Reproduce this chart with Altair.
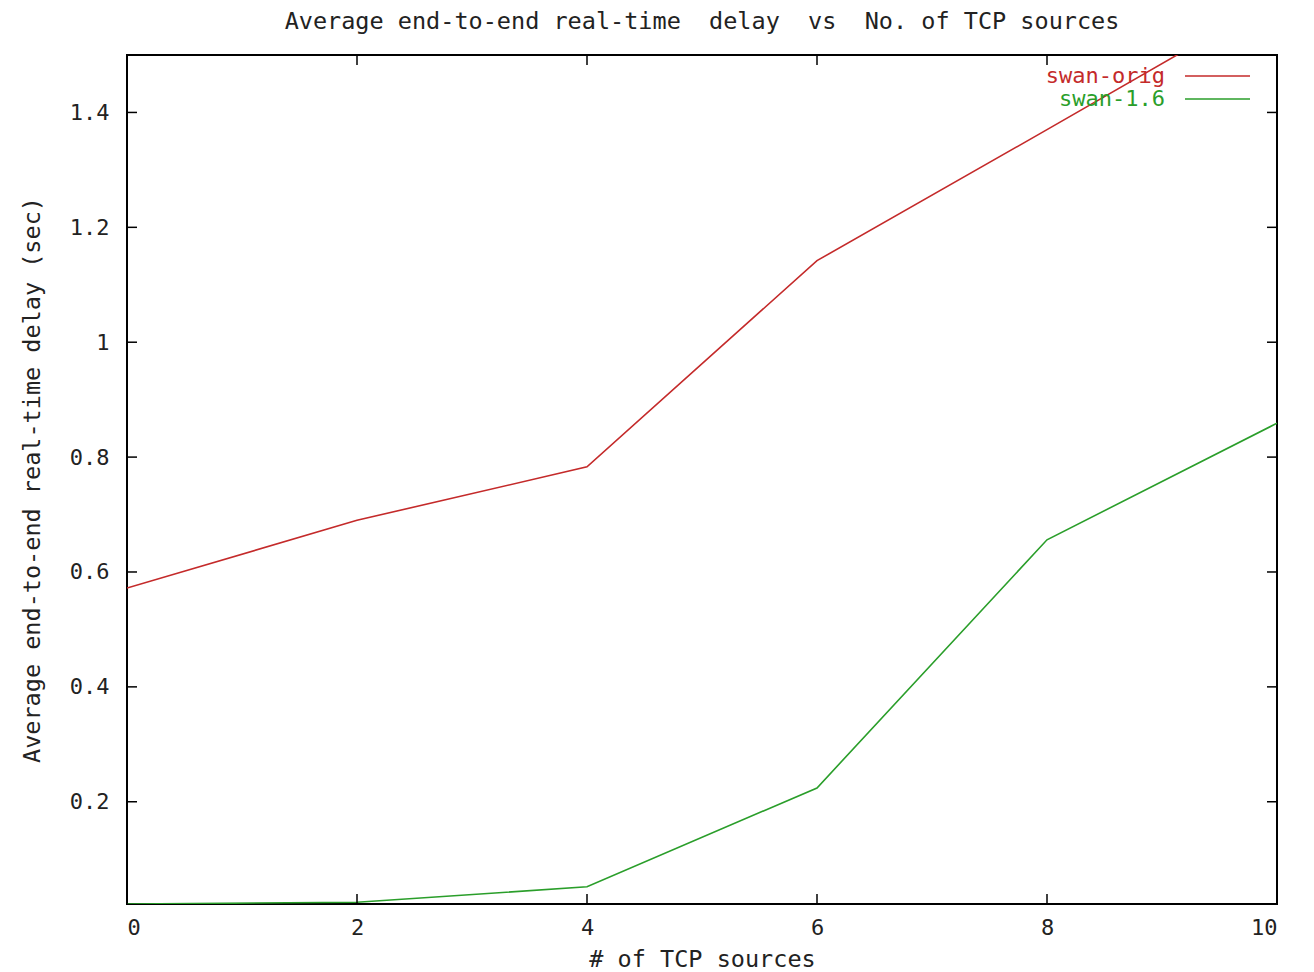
import altair as alt
import pandas as pd

# ---- data ----
x_vals = [0, 2, 4, 6, 8, 10]
swan_orig = [0.572, 0.690, 0.783, 1.142, 1.370, 1.600]
swan_16 = [0.022, 0.025, 0.052, 0.224, 0.656, 0.859]
series_names = ["swan-orig", "swan-1.6"]
series_colors = ["#c42a2a", "#2a9e2a"]
x_ticks = [0, 2, 4, 6, 8, 10]
y_ticks = [0.2, 0.4, 0.6, 0.8, 1.0, 1.2, 1.4]
title_text = "Average end-to-end real-time\u00a0\u00a0delay\u00a0\u00a0vs\u00a0\u00a0No. of TCP sources"

W, H = 1150, 849
FONT = "DejaVu Sans Mono"
FS = 22     # tick labels
TFS = 23.5  # titles
LFS = 22    # legend

rows = []
for name, vals in zip(series_names, [swan_orig, swan_16]):
    for x, y in zip(x_vals, vals):
        rows.append({"x": x, "y": y, "series": name})
df = pd.DataFrame(rows)

xscale = alt.Scale(domain=[0, 10], nice=False, zero=False)
yscale = alt.Scale(domain=[0.022, 1.5], nice=False, zero=False)
cscale = alt.Scale(domain=series_names, range=series_colors)

xaxis = alt.Axis(values=x_ticks, title="# of TCP sources", ticks=False, domain=False,
                 grid=False, labelPadding=13, labelFont=FONT, labelFontSize=FS,
                 labelColor="#222",
                 titleFont=FONT, titleFontSize=TFS, titleFontWeight="normal",
                 titleColor="#222", titleY=55, titleBaseline="middle")
yaxis = alt.Axis(values=y_ticks, title="Average end-to-end real-time delay (sec)",
                 ticks=False, domain=False, grid=False, labelPadding=18,
                 labelFont=FONT, labelFontSize=FS, labelColor="#222",
                 labelExpr="datum.value == 1 ? '1' : format(datum.value, '.1f')",
                 titleFont=FONT, titleFontSize=TFS, titleFontWeight="normal",
                 titleColor="#222", titleX=-95, titleY=H / 2, titleBaseline="middle")

lines = alt.Chart(df).mark_line(strokeWidth=1.6, clip=True).encode(
    x=alt.X("x:Q", scale=xscale, axis=xaxis),
    y=alt.Y("y:Q", scale=yscale, axis=yaxis),
    color=alt.Color("series:N", scale=cscale, legend=None),
    detail="series:N",
)

ydf = pd.DataFrame({"y": y_ticks})
xdf = pd.DataFrame({"x": x_ticks})
tick_style = dict(color="black", strokeWidth=1.5)
yt_left = alt.Chart(ydf).mark_rule(**tick_style).encode(
    y=alt.Y("y:Q", scale=yscale, axis=yaxis), x=alt.value(0), x2=alt.value(10))
yt_right = alt.Chart(ydf).mark_rule(**tick_style).encode(
    y=alt.Y("y:Q", scale=yscale, axis=yaxis), x=alt.value(W - 10), x2=alt.value(W))
xt_bot = alt.Chart(xdf).mark_rule(**tick_style).encode(
    x=alt.X("x:Q", scale=xscale, axis=xaxis), y=alt.value(H - 10), y2=alt.value(H))
xt_top = alt.Chart(xdf).mark_rule(**tick_style).encode(
    x=alt.X("x:Q", scale=xscale, axis=xaxis), y=alt.value(0), y2=alt.value(10))

legend_layers = []
for i, (name, col) in enumerate(zip(series_names, series_colors)):
    ly = 21 + 23 * i
    ldf = pd.DataFrame({"label": [name]})
    legend_layers.append(
        alt.Chart(ldf).mark_text(align="right", baseline="middle", font=FONT, fontSize=LFS,
                                 color=col).encode(text="label:N", x=alt.value(1038), y=alt.value(ly)))
    legend_layers.append(
        alt.Chart(ldf).mark_rule(color=col, strokeWidth=1.6).encode(
            x=alt.value(1058), x2=alt.value(1123), y=alt.value(ly)))

chart = alt.layer(lines, yt_left, yt_right, xt_bot, xt_top, *legend_layers).properties(
    width=W, height=H,
    title=alt.TitleParams(title_text,
                          font=FONT, fontSize=TFS, fontWeight="normal", color="#222",
                          anchor="middle", offset=21),
    autosize=alt.AutoSizeParams(type="none"),
    padding={"left": 119, "top": 47, "right": 29, "bottom": 68},
).configure(
    background="white",
    view=alt.ViewConfig(stroke="black", strokeWidth=2),
)

chart.save("out.html", embed_options={"renderer": "svg", "actions": False})
